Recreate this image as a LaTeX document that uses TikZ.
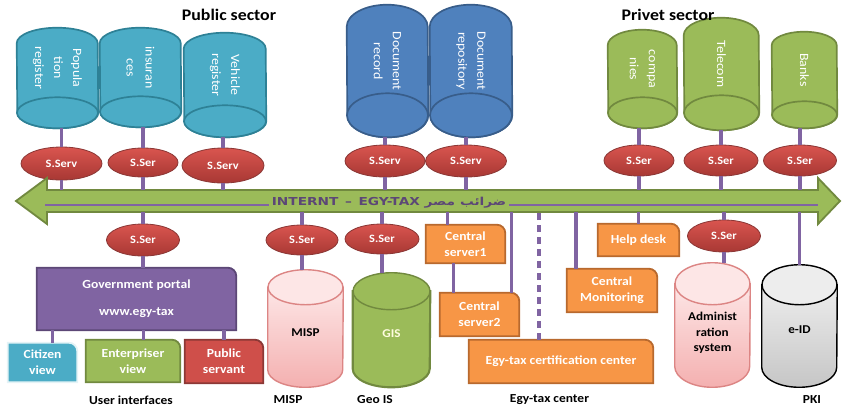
\documentclass[tikz,border=0pt]{standalone}
\usepackage{fontspec}
\setmainfont{Carlito}[FakeStretch=1.1]
\newfontfamily\bandfont{DejaVu Sans}[FakeStretch=1.25]
\newfontfamily\arabicfont[Script=Arabic,FakeStretch=1.25]{DejaVu Sans}
\TeXXeTstate=1
\usetikzlibrary{positioning, shapes.geometric, backgrounds}

\definecolor{tealfl}{HTML}{4BACC6}
\definecolor{tealdk}{HTML}{2E8196}
\definecolor{bluefl}{HTML}{4F81BD}
\definecolor{bluedk}{HTML}{385D8A}
\definecolor{greenfl}{HTML}{9BBB59}
\definecolor{greendk}{HTML}{71893F}
\definecolor{redfl}{HTML}{A83834}
\definecolor{redlt}{HTML}{D9554F}
\definecolor{reddk}{HTML}{8C3836}
\definecolor{purplefl}{HTML}{8064A2}
\definecolor{purpledk}{HTML}{5C4776}
\definecolor{orangefl}{HTML}{F79646}
\definecolor{orangedk}{HTML}{B8692E}
\definecolor{pinkfl}{HTML}{F4B0B0}
\definecolor{pinklt}{HTML}{FDE6E6}
\definecolor{pinkdk}{HTML}{DC8584}
\definecolor{grayfl}{HTML}{C6C6C6}
\definecolor{graylt}{HTML}{EDEDED}
\definecolor{linkc}{HTML}{8064A2}

\newlength\pxu
\setlength\pxu{0.025cm}

% box with one round corner, drawn behind its text node
\newcommand\cornerbox[3]{%
  \begin{scope}[on background layer]
    \draw[line width=1.3pt, draw=#3, fill=#2]
      (#1.south west) -- (#1.north west) -- ([xshift=-6pt]#1.north east)
      arc[start angle=90, end angle=0, radius=6pt] -- (#1.south east) -- cycle;
  \end{scope}}

% hanging database: end face at the bottom (name, fill, draw, x radius, y radius)
\newcommand\dbtop[5]{%
  \begin{scope}[on background layer]
    \draw[line width=1.2pt, draw=#3, fill=#2]
      ([yshift=-#5\pxu]#1.north west) arc[start angle=180, end angle=0, x radius=#4\pxu, y radius=#5\pxu]
      -- ([yshift=#5\pxu]#1.south east) arc[start angle=0, end angle=-180, x radius=#4\pxu, y radius=#5\pxu] -- cycle;
    \draw[line width=1.2pt, draw=#3, fill=#2]
      ([yshift=#5\pxu]#1.south) ellipse[x radius=#4\pxu, y radius=#5\pxu];
  \end{scope}}

% standing database: end face on top (name, body fill keys, face fill, draw, x radius, y radius)
\newcommand\dbbot[6]{%
  \begin{scope}[on background layer]
    \draw[line width=1pt, draw=#4, #2]
      ([yshift=-#6\pxu]#1.north west) -- ([yshift=#6\pxu]#1.south west)
      arc[start angle=180, end angle=360, x radius=#5\pxu, y radius=#6\pxu]
      -- ([yshift=-#6\pxu]#1.north east) -- cycle;
    \draw[line width=1pt, draw=#4, fill=#3]
      ([yshift=-#6\pxu]#1.north) ellipse[x radius=#5\pxu, y radius=#6\pxu];
  \end{scope}}

\begin{document}
\begin{tikzpicture}[x=0.025cm, y=-0.025cm,
    every node/.style={align=center},
    dbbox/.style={inner sep=0pt},
    dblabel/.style={yshift=10\pxu, rotate=-90, text=white, font=\fontsize{9}{13.5}\selectfont},
    dbtxt/.style={yshift=-4\pxu, inner sep=0pt, font=\bfseries\fontsize{8.5}{11}\selectfont},
    serv/.style={ellipse, draw=reddk, line width=0.6pt, top color=redlt, bottom color=redfl,
        text=white, font=\bfseries\fontsize{8}{9}\selectfont, inner sep=0pt},
    boxtxt/.style={text=white, font=\bfseries\fontsize{8.8}{11.3}\selectfont, inner sep=0pt},
    lbl/.style={font=\bfseries\fontsize{8.7}{10}\selectfont},
    sector/.style={font=\bfseries\fontsize{11.5}{13}\selectfont},
    bandarrow/.style={draw=greendk, fill=greenfl, line width=1.3pt},
    bandtxt/.style={fill=greenfl, text=purpledk, inner xsep=2pt, inner ysep=0pt,
        font=\bandfont\bfseries\fontsize{7.8}{9}\selectfont},
    link/.style={draw=linkc, line width=2.2pt},
  ]
\useasboundingbox (0,0) rectangle (844,410);

% Titles
\node[sector] (pubt) at (229,15) {Public sector};
\node[sector] (prvt) at (668,15) {Privet sector};

% Top databases
\node[dbbox, minimum width=81\pxu, minimum height=100\pxu, label={[dblabel]center:{Popula\\tion\\register}}] (pop) at (57.5,78) {};
\node[dbbox, minimum width=81\pxu, minimum height=99\pxu, label={[dblabel]center:{insuran\\ces}}] (ins) at (140.5,77.5) {};
\node[dbbox, minimum width=82\pxu, minimum height=104\pxu, label={[dblabel]center:{Vehicle\\register}}] (veh) at (225,85) {};
\node[dbbox, minimum width=81\pxu, minimum height=132\pxu, label={[dblabel]center:{Document\\record}}] (docrec) at (387.5,71) {};
\node[dbbox, minimum width=82\pxu, minimum height=132\pxu, label={[dblabel]center:{Document\\repository}}] (docrep) at (471,71) {};
\node[dbbox, minimum width=69\pxu, minimum height=98\pxu, label={[dblabel]center:{compa\\nies}}] (comp) at (642.5,79) {};
\node[dbbox, minimum width=75\pxu, minimum height=112\pxu, label={[dblabel]center:{Telecom}}] (tel) at (721.5,74) {};
\node[dbbox, minimum width=65\pxu, minimum height=96\pxu, label={[dblabel]center:{Banks}}] (bank) at (804.5,80) {};
\dbtop{pop}{tealfl}{tealdk}{40.5}{15.5}
\dbtop{ins}{tealfl}{tealdk}{40.5}{15.5}
\dbtop{veh}{tealfl}{tealdk}{41}{16}
\dbtop{docrec}{bluefl}{bluedk}{40.5}{22}
\dbtop{docrep}{bluefl}{bluedk}{41}{22}
\dbtop{comp}{greenfl}{greendk}{34.5}{15.5}
\dbtop{tel}{greenfl}{greendk}{37.5}{17.5}
\dbtop{bank}{greenfl}{greendk}{32.5}{13.5}

% Service ellipses, top row
\node[serv, minimum width=81\pxu, minimum height=33\pxu] (sv1) at (61.5,163.5) {S.Serv};
\node[serv, minimum width=70\pxu, minimum height=29\pxu] (sv2) at (143,162.5) {S.Ser};
\node[serv, minimum width=82\pxu, minimum height=35\pxu] (sv3) at (223,165.5) {S.Serv};
\node[serv, minimum width=80\pxu, minimum height=32\pxu] (sv4) at (385,161) {S.Serv};
\node[serv, minimum width=81\pxu, minimum height=32\pxu] (sv5) at (466,161) {S.Serv};
\node[serv, minimum width=70\pxu, minimum height=31\pxu] (sv6) at (639,160.5) {S.Ser};
\node[serv, minimum width=74\pxu, minimum height=31\pxu] (sv7) at (721,160.5) {S.Ser};
\node[serv, minimum width=73\pxu, minimum height=31\pxu] (sv8) at (800,160.5) {S.Ser};

% Band
\coordinate (bandtop) at (0,190);
\coordinate (bandbot) at (0,212);
\draw[bandarrow] (16,201) -- (47,178) -- (47,190) -- (818,190) -- (818,178) -- (840,201)
    -- (818,224) -- (818,212) -- (47,212) -- (47,224) -- cycle;
\coordinate (lineL) at (45,205);
\coordinate (lineR) at (818,205);
\draw[link, line width=1.8pt] (lineL) -- (lineR);
\node[bandtxt] (inet) at (389,203) {INTERNT \,–\, EGY-TAX {\arabicfont\beginR ضرائب مصر\endR}};

% Links, top row
\draw[link] (sv1.north) -- (sv1.north |- pop.south);
\draw[link] (sv2.north) -- (sv2.north |- ins.south);
\draw[link] (sv3.north) -- (sv3.north |- veh.south);
\draw[link] (sv4.north) -- (sv4.north |- docrec.south);
\draw[link] (sv5.north) -- (sv5.north |- docrep.south);
\draw[link] (sv6.north) -- (sv6.north |- comp.south);
\draw[link] (sv7.north) -- (sv7.north |- tel.south);
\draw[link] (sv8.north) -- (sv8.north |- bank.south);
\foreach \s in {sv1,sv2,sv3,sv4,sv5,sv6,sv7,sv8}
  \draw[link] (\s.south) -- (\s.south |- bandtop);

% User interfaces
\node[serv, minimum width=73\pxu, minimum height=32\pxu] (sv9) at (143,240) {S.Ser};
\node[boxtxt, minimum width=199\pxu, minimum height=62\pxu] (portal) at (136.5,299) {Government portal\\[8pt]www.egy-tax};
\node[boxtxt, minimum width=69\pxu, minimum height=39\pxu] (citizen) at (42.5,362.5) {Citizen\\view};
\node[boxtxt, minimum width=94\pxu, minimum height=42\pxu] (enterp) at (133,361) {Enterpriser\\view};
\node[boxtxt, minimum width=78\pxu, minimum height=43\pxu] (pubserv) at (224,361.5) {Public\\servant};
\cornerbox{portal}{purplefl}{purpledk}
\cornerbox{citizen}{tealfl}{white!85!tealfl}
\cornerbox{enterp}{greenfl}{greendk}
\cornerbox{pubserv}{redlt!80!redfl}{reddk}
\draw[link] (sv9.north) -- (sv9.north |- bandbot);
\draw[link] (sv9.south) -- (sv9.south |- portal.north);
\draw[link] ([xshift=0.24cm]citizen.north) -- ([xshift=0.24cm]citizen.north |- portal.south);
\draw[link] ([xshift=0.27cm]enterp.north) -- ([xshift=0.27cm]enterp.north |- portal.south);
\draw[link] (pubserv.north) -- (pubserv.north |- portal.south);
\node[lbl] (uil) at (131,400) {User interfaces};

% MISP and Geo IS
\node[serv, minimum width=72\pxu, minimum height=30\pxu] (sv10) at (302,240) {S.Ser};
\node[dbbox, minimum width=75\pxu, minimum height=117\pxu, label={[dbtxt]center:MISP}] (misp) at (305.5,328.5) {};
\dbbot{misp}{top color=pinklt, bottom color=pinkfl}{pinklt}{pinkdk}{37.5}{17.5}
\draw[link] (sv10.north) -- (sv10.north |- bandbot);
\draw[link] (sv10.south) -- (sv10.south |- misp.north);
\node[lbl] (mispl) at (288,400) {MISP};
\node[serv, minimum width=74\pxu, minimum height=30\pxu] (sv11) at (382,239) {S.Ser};
\node[dbbox, minimum width=77\pxu, minimum height=114\pxu, label={[dbtxt, text=white!88!yellow]center:GIS}] (gis) at (391.5,330) {};
\dbbot{gis}{fill=greenfl, line width=1.5pt}{greenfl}{greendk}{38.5}{18.5}
\draw[link] (sv11.north) -- (sv11.north |- bandbot);
\draw[link] (sv11.south) -- (sv11.south |- gis.north);
\node[lbl] (geol) at (375,400) {Geo IS};

% Egy-tax center
\node[boxtxt, minimum width=79\pxu, minimum height=38\pxu] (cs1) at (465.5,244) {Central\\server1};
\node[boxtxt, minimum width=79\pxu, minimum height=43\pxu] (cs2) at (479.5,314.5) {Central\\server2};
\node[boxtxt, minimum width=184\pxu, minimum height=43\pxu] (cert) at (561,361.5) {Egy-tax certification center};
\node[boxtxt, minimum width=90\pxu, minimum height=43\pxu] (cmon) at (612,290.5) {Central\\Monitoring};
\node[boxtxt, minimum width=81\pxu, minimum height=32\pxu] (help) at (638.5,240) {Help desk};
\foreach \b in {cs1,cs2,cert,cmon,help}
  \cornerbox{\b}{orangefl}{orangedk}
\draw[link] ([xshift=-0.44cm]cs1.north) -- ([xshift=-0.44cm]cs1.north |- bandbot);
\draw[link] ([xshift=-0.31cm]cs1.south) -- ([xshift=-0.31cm]cs1.south |- cs2.north);
\draw[link] ([xshift=0.79cm]cs2.north) -- ([xshift=0.79cm]cs2.north |- bandbot);
\draw[link, dash pattern=on 5pt off 3.5pt] ([xshift=-0.55cm]cert.north) -- ([xshift=-0.55cm]cert.north |- bandbot);
\draw[link] ([xshift=-0.9cm]cmon.north) -- ([xshift=-0.9cm]cmon.north |- bandbot);
\draw[link] (help.north) -- (help.north |- bandbot);
\node[lbl] (etcl) at (549.5,400) {Egy-tax center};

% Administration and PKI
\node[serv, minimum width=73\pxu, minimum height=32\pxu] (sv12) at (724,236) {S.Ser};
\node[dbbox, minimum width=75\pxu, minimum height=124\pxu, label={[dbtxt, yshift=-4\pxu]center:{Administ\\ration\\system}}] (adm) at (712.5,325) {};
\dbbot{adm}{top color=pinklt, bottom color=pinkfl}{pinklt}{pinkdk}{37.5}{21}
\node[dbbox, minimum width=75\pxu, minimum height=122\pxu, label={[dbtxt]center:e-ID}] (eid) at (799.5,326) {};
\dbbot{eid}{top color=graylt, bottom color=grayfl}{graylt}{black}{37.5}{20}
\draw[link] (sv12.north) -- (sv12.north |- bandbot);
\draw[link] (sv12.south) -- (sv12.south |- adm.north);
\draw[link] (eid.north) -- (eid.north |- bandbot);
\node[lbl] (pkil) at (812,400) {PKI};

\end{tikzpicture}
\end{document}
